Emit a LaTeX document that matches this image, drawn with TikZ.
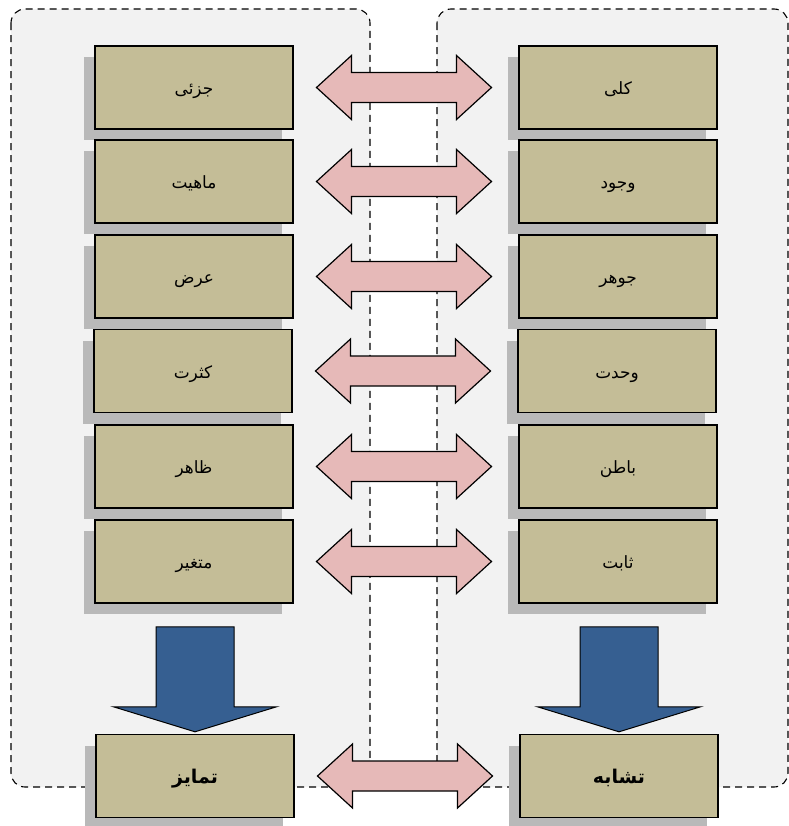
\documentclass[tikz,border=0pt]{standalone}
\usepackage{fontspec}
\usetikzlibrary{calc,shadows}
\TeXXeTstate=1
\newfontfamily\arabicfont[Script=Arabic]{DejaVu Sans}
\definecolor{boxtan}{HTML}{C4BD97}
\definecolor{shadowgray}{HTML}{B9B9B9}
\definecolor{panelgray}{HTML}{F2F2F2}
\definecolor{linkpink}{HTML}{E6B9B8}
\definecolor{flowblue}{HTML}{365F91}
\newcommand\fa[1]{\beginR #1\endR}
\begin{document}
\begin{tikzpicture}[x=1bp,y=-1bp,
  panel/.style={draw=black, dash pattern=on 7bp off 5bp, line width=1.1bp,
    fill=panelgray, rounded corners=14bp},
  termbox/.style={draw=black, line width=1.4bp, fill=boxtan,
    minimum width=198bp, minimum height=83bp, inner sep=0pt,
    text height=14bp, text depth=0bp,
    font=\arabicfont\fontsize{17}{20}\selectfont,
    general shadow={shadow xshift=-11bp, shadow yshift=-11bp,
      fill=shadowgray, draw=none}},
  sumbox/.style={termbox, font=\arabicfont\bfseries\fontsize{19}{22}\selectfont},
  pinkarrow/.style={draw=black, line width=1.2bp, fill=linkpink, line join=miter},
  bluearrow/.style={draw=black, line width=1bp, fill=flowblue, line join=miter}]
\useasboundingbox (0,0) rectangle (789,826);

% the two groups
\path[panel] (11,9) rectangle (370,787);
\path[panel] (437,9) rectangle (788,787);

% left column
\node[termbox] (L1) at (194,87.5)  {\fa{جزئی}};
\node[termbox] (L2) at (194,181.5) {\fa{ماهیت}};
\node[termbox] (L3) at (194,276.5) {\fa{عرض}};
\node[termbox] (L4) at (193,371)   {\fa{کثرت}};
\node[termbox] (L5) at (194,466.5) {\fa{ظاهر}};
\node[termbox] (L6) at (194,561.5) {\fa{متغیر}};
\node[sumbox]  (LS) at (195,776)   {\fa{تمایز}};

% right column
\node[termbox] (R1) at (618,87.5)  {\fa{کلی}};
\node[termbox] (R2) at (618,181.5) {\fa{وجود}};
\node[termbox] (R3) at (618,276.5) {\fa{جوهر}};
\node[termbox] (R4) at (617,371)   {\fa{وحدت}};
\node[termbox] (R5) at (618,466.5) {\fa{باطن}};
\node[termbox] (R6) at (618,561.5) {\fa{ثابت}};
\node[sumbox]  (RS) at (619,776)   {\fa{تشابه}};

% double block arrows between paired terms
\foreach \a/\b in {L1/R1,L2/R2,L3/R3,L4/R4,L5/R5,L6/R6,LS/RS}{
  \draw[pinkarrow] ($(\a.east)!0.5!(\b.west)$) ++(-89.5,0)
    -- ++(35,-32) -- ++(0,17) -- ++(105,0) -- ++(0,-17)
    -- ++(35,32) -- ++(-35,32) -- ++(0,-17) -- ++(-105,0)
    -- ++(0,17) -- cycle;
}

% block arrows down to the summary boxes
\foreach \s in {LS,RS}{
  \draw[bluearrow] (\s.north) ++(0,-2) -- ++(-81.5,-25) -- ++(42.5,0)
    -- ++(0,-80) -- ++(78,0) -- ++(0,80) -- ++(42.5,0) -- cycle;
}
\end{tikzpicture}
\end{document}
